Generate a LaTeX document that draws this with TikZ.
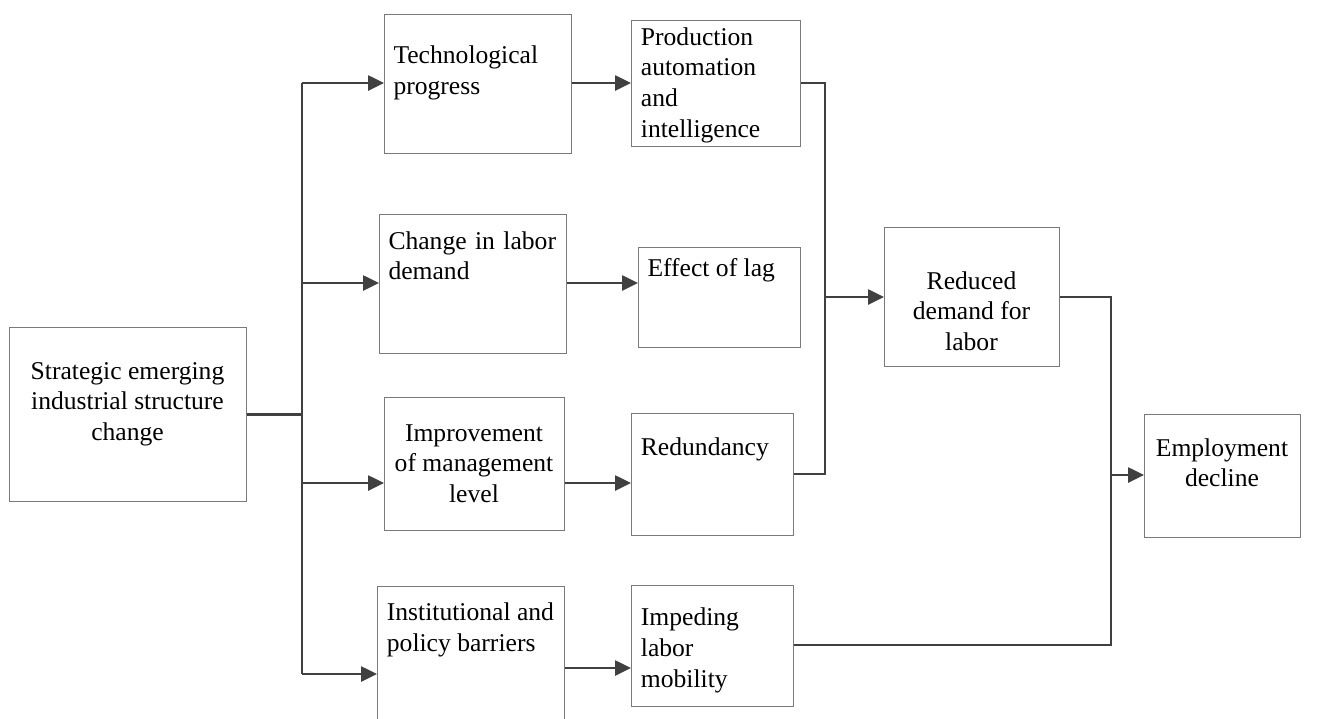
\documentclass[tikz,border=0pt]{standalone}
\usepackage{fontspec}
\setmainfont{Liberation Serif}
\usetikzlibrary{arrows.meta}
\definecolor{boxgray}{HTML}{7A7A7A}
\definecolor{linegray}{HTML}{404040}
\begin{document}
\begin{tikzpicture}[x=1pt,y=-1pt,
  box/.style={draw=boxgray,line width=1.3pt,inner sep=0pt,anchor=north west,rectangle},
  lbl/.style={inner sep=0pt,font=\fontsize{25.6}{30.7}\selectfont,text=black},
  conn/.style={draw=linegray,line width=2.6pt},
  arr/.style={conn,-{Triangle[length=16pt,width=15pt]}}]
\useasboundingbox (0,0) rectangle (1338,718);
% boxes
\node[box,minimum width=237pt,minimum height=174pt] (strat) at (9,327) {};
\node[box,minimum width=187pt,minimum height=139pt] (tech) at (384,14) {};
\node[box,minimum width=169pt,minimum height=126pt] (prod) at (631,20) {};
\node[box,minimum width=187pt,minimum height=139pt] (chg) at (379,214) {};
\node[box,minimum width=162pt,minimum height=100pt] (eff) at (638,247) {};
\node[box,minimum width=180pt,minimum height=133pt] (imp) at (384,397) {};
\node[box,minimum width=162pt,minimum height=122pt] (red) at (631,413) {};
\node[box,minimum width=187pt,minimum height=150pt] (inst) at (377,586) {};
\node[box,minimum width=162pt,minimum height=121pt] (imped) at (631,585) {};
\node[box,minimum width=175pt,minimum height=139pt] (rdem) at (884,227) {};
\node[box,minimum width=156pt,minimum height=123pt] (emp) at (1144,414) {};
% labels (anchor base = baseline of the last line)
\node[lbl,anchor=base,align=center] (stratT) at (127.5,440.4) {Strategic emerging\\industrial structure\\change};
\node[lbl,anchor=base west,align=left] (techT) at (393.3,94.2) {Technological\\progress};
\node[lbl,anchor=base west,align=left] (prodT) at (640.7,137.1) {Production\\automation\\and\\intelligence};
\node[lbl,anchor=base west,align=left] (chgT) at (388.3,279.7) {Change\hspace{2pt} in\hspace{2pt} labor\\demand};
\node[lbl,anchor=base west,align=left] (effT) at (647.3,276.7) {Effect of lag};
\node[lbl,anchor=base,align=center] (impT) at (474,502.4) {Improvement\\of management\\level};
\node[lbl,anchor=base west,align=left] (redT) at (640.7,455) {Redundancy};
\node[lbl,anchor=base west,align=left] (instT) at (386.7,651.4) {Institutional and\\policy barriers};
\node[lbl,anchor=base west,align=left] (impedT) at (640.7,687.1) {Impeding\\labor\\mobility};
\node[lbl,anchor=base,align=center] (rdemT) at (971.5,350.4) {Reduced\\demand for\\labor};
\node[lbl,anchor=base,align=center] (empT) at (1222,486.7) {Employment\\decline};
% junction points
\coordinate (tA) at (302,83);
\coordinate (tB) at (302,283);
\coordinate (tC) at (302,483);
\coordinate (tD) at (302,674);
\coordinate (rI) at (302,668);
\coordinate (mA) at (825,83);
\coordinate (mC) at (825,297);
\coordinate (mB) at (825,474);
\coordinate (nA) at (1111,297);
\coordinate (nC) at (1111,475);
\coordinate (nB) at (1111,645);
% connectors
\draw[conn] (strat.east) -- (strat.east -| tA);
\draw[conn] (tA) -- (tD);
\draw[arr] (tA) -- (tA -| tech.west);
\draw[arr] (tB) -- (tB -| chg.west);
\draw[arr] (tC) -- (tC -| imp.west);
\draw[arr] (tD) -- (tD -| inst.west);
\draw[arr] (tA -| tech.east) -- (tA -| prod.west);
\draw[arr] (tB -| chg.east) -- (tB -| eff.west);
\draw[arr] (tC -| imp.east) -- (tC -| red.west);
\draw[arr] (rI -| inst.east) -- (rI -| imped.west);
\draw[conn] (mA -| prod.east) -- (mA) -- (mB) -- (mB -| red.east);
\draw[arr] (mC) -- (mC -| rdem.west);
\draw[conn] (nA -| rdem.east) -- (nA) -- (nB) -- (nB -| imped.east);
\draw[arr] (nC) -- (nC -| emp.west);
\end{tikzpicture}
\end{document}
